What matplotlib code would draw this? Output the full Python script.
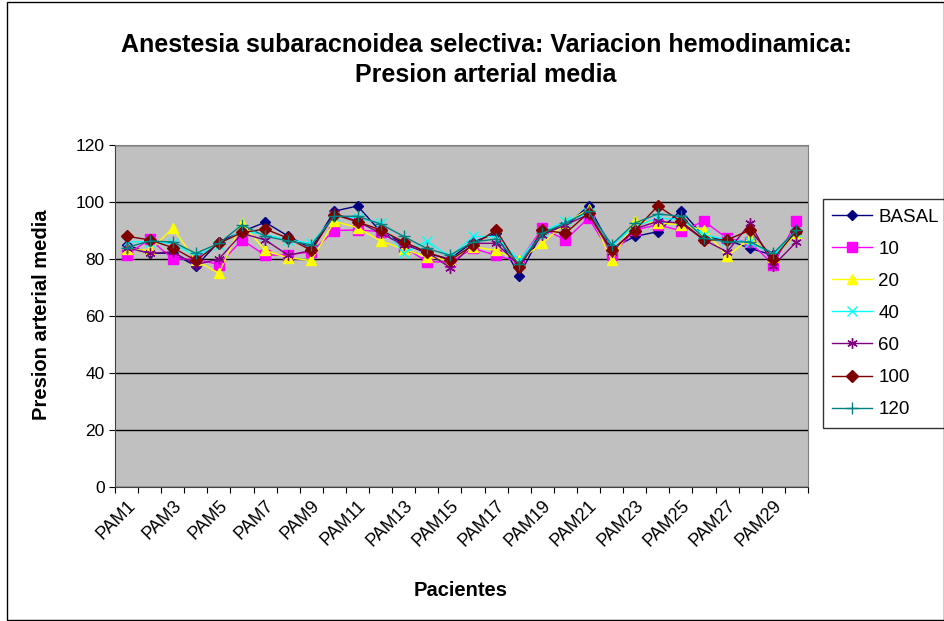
import numpy as np
import matplotlib
matplotlib.use("Agg")
import matplotlib.pyplot as plt
from matplotlib.patches import Rectangle

plt.rcParams['font.family'] = ['Liberation Sans', 'DejaVu Sans']

# pacientes PAM1..PAM30
pacientes = ["PAM%d" % i for i in range(1, 31)]

basal = [85, 82, 82, 77.5, 86, 89.6, 92.9, 88, 83.7, 96.8,
         98.6, 89.6, 85.5, 82, 80, 86, 89, 74.2, 89.6, 91.4,
         98.6, 83.7, 87.9, 89.6, 97, 87.9, 86.7, 83.7, 81.3, 89]
m10 = [81.3, 87, 80, 80, 78, 86.7, 81.3, 81.5, 82.5, 90,
       90.2, 89.6, 84.3, 79, 79, 83.7, 81.3, 79, 90.8, 86.7,
       94.4, 81.3, 90.2, 92, 89.9, 93.2, 87.3, 85.8, 78, 93.2]
m20 = [83.5, 83, 90.8, 79.5, 75, 92.6, 83, 80.4, 79.5, 93.2,
       91, 86.3, 83.5, 80.7, 79.5, 84.3, 83, 79.5, 85.5, 92.6,
       97.4, 79.5, 93.5, 92.6, 92, 90.2, 81, 87.3, 80.7, 89]
m40 = [86, 86, 85.5, 81, 85, 90, 88.5, 86.7, 85.5, 95,
       94.4, 92.6, 82, 86.3, 80.7, 87.9, 87.9, 79.5, 89.6, 93.2,
       96.2, 85, 91.4, 94.4, 93.8, 88.5, 86.7, 86, 81.3, 89.6]
m60 = [84, 82, 82.5, 78, 80, 89, 86.7, 81.3, 83, 96,
       93.2, 89, 85, 82.5, 77, 85.5, 85.5, 77.7, 88.5, 92,
       95.6, 82.5, 90.6, 93.2, 92.6, 86.7, 82.5, 92.6, 77.7, 86]
m100 = [88, 86.7, 84, 79.5, 85.5, 89.3, 90.5, 87.3, 83, 95.6,
        93, 90.2, 86, 82.5, 79.5, 84.9, 90.2, 77.1, 90.2, 89,
        96.2, 83, 90, 98.6, 93.2, 86.7, 86.7, 90.2, 80.1, 89.9]
m120 = [84, 86.3, 86, 82, 85.5, 92, 88, 86.3, 85, 95,
        95, 92.3, 87.9, 83.7, 81.3, 86, 87, 78.3, 89, 92.6,
        96.8, 85, 92.6, 95.8, 95, 87.3, 86, 86, 82, 90.2]

series = [
    ("BASAL", basal, "#000080", "D", 5.5),
    ("10", m10, "#FF00FF", "s", 6.5),
    ("20", m20, "#FFFF00", "^", 7.5),
    ("40", m40, "#00FFFF", "x", 6.5),
    ("60", m60, "#800080", (6, 2, 0), 7.5),
    ("100", m100, "#800000", "D", 6.5),
    ("120", m120, "#008080", "+", 8.5),
]

fig = plt.figure(figsize=(9.45, 6.21), dpi=100)
ax = fig.add_axes([115/945, 1-487/621, (808-115)/945, (487-145)/621])
ax.set_facecolor("#C0C0C0")

x = np.arange(len(pacientes))
for name, vals, col, mk, ms in series:
    ax.plot(x, vals, color=col, marker=mk, markersize=ms, linewidth=1,
            markeredgecolor=col, markerfacecolor=col, label=name)

ax.set_xlim(-0.5, len(pacientes) - 0.5)
ax.set_ylim(0, 120)
ax.set_yticks(range(0, 121, 20))
ax.yaxis.grid(True, color="black", linewidth=1)
ax.set_axisbelow(True)

# ticks between categories, labels every second patient
ax.set_xticks(np.arange(-0.5, len(pacientes), 1))
ax.set_xticklabels([])
ax.set_xticks(x[::2], minor=True)
ax.set_xticklabels(pacientes[::2], minor=True, rotation=45, ha="right",
                   va="top", rotation_mode="anchor", fontsize=13)
ax.tick_params(axis="x", which="minor", length=0, pad=7)
ax.tick_params(axis="x", which="major", direction="out", length=4)
ax.tick_params(axis="y", direction="out", length=4, labelsize=12.5)

for s in ["top", "right"]:
    ax.spines[s].set_color("#808080")
ax.spines["left"].set_color("#404040")
ax.spines["bottom"].set_color("#404040")

fig.text(486/945, 0.928, "Anestesia subaracnoidea selectiva: Variacion hemodinamica:",
         ha="center", va="center", fontsize=18, fontweight="bold")
fig.text(486/945, 0.879, "Presion arterial media",
         ha="center", va="center", fontsize=18, fontweight="bold")
fig.text(42/945, 1-315/621, "Presion arterial media", rotation=90,
         ha="center", va="center", fontsize=14.5, fontweight="bold")
fig.text(461/945, 1-590/621, "Pacientes", ha="center", va="center",
         fontsize=14.5, fontweight="bold")

leg = ax.legend(loc="upper left", bbox_to_anchor=(823/945, 1-199/621),
                bbox_transform=fig.transFigure, frameon=True, fancybox=False,
                edgecolor="black", fontsize=13.5, handlelength=2.1,
                labelspacing=0.8, borderpad=0.5, handletextpad=0.35,
                borderaxespad=0)
leg.get_frame().set_linewidth(1)

fig.patches.append(Rectangle((7/945, 0.002), 937/945, 0.995,
                             transform=fig.transFigure, fill=False,
                             edgecolor="black", linewidth=1))

fig.savefig("out.png", dpi=100, facecolor="white")
